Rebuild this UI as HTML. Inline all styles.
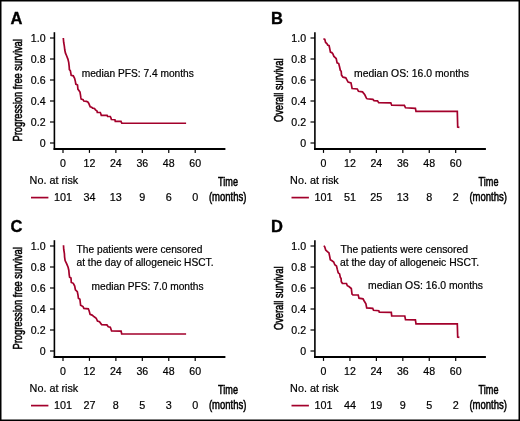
<!DOCTYPE html>
<html><head><meta charset="utf-8"><style>
html,body{margin:0;padding:0;background:#fff;}
body{width:520px;height:421px;overflow:hidden;position:relative;}
svg{position:absolute;left:0;top:0;will-change:transform;}
text{font-family:"Liberation Sans",sans-serif;fill:#000;stroke:#000;stroke-width:0.2px;}
.lt{font-size:16.5px;font-weight:bold;fill:#000;stroke:#000;stroke-width:0.35px;}
.tl{font-size:10.6px;}
.rk{font-size:10.8px;}
.nt{font-size:10.2px;}
.cd{font-size:13px;stroke:#000;stroke-width:0.55px;}
.ax{fill:none;stroke:#000;stroke-width:1.6;}
.tk{fill:none;stroke:#000;stroke-width:1.2;}
.cv{fill:none;stroke:#a3002b;stroke-width:1.7;stroke-linejoin:miter;}
.bd{fill:none;stroke:#000;}
</style></head><body>
<svg width="520" height="421" viewBox="0 0 520 421">
<rect x="0" y="0" width="520" height="421" fill="#fff"/>
<text x="10.5" y="23.5" class="lt">A</text>
<path d="M54.40,32.20 V149.90" class="ax"/>
<path d="M53.60,149.00 H225.40" class="ax" style="stroke-width:1.9"/>
<path d="M50.00,38.00 H54.40" class="tk"/>
<text x="45.60" y="41.70" class="tl" text-anchor="end">1.0</text>
<path d="M50.00,59.00 H54.40" class="tk"/>
<text x="45.60" y="62.70" class="tl" text-anchor="end">0.8</text>
<path d="M50.00,80.00 H54.40" class="tk"/>
<text x="45.60" y="83.70" class="tl" text-anchor="end">0.6</text>
<path d="M50.00,101.00 H54.40" class="tk"/>
<text x="45.60" y="104.70" class="tl" text-anchor="end">0.4</text>
<path d="M50.00,122.00 H54.40" class="tk"/>
<text x="45.60" y="125.70" class="tl" text-anchor="end">0.2</text>
<path d="M50.00,143.00 H54.40" class="tk"/>
<text x="45.60" y="146.70" class="tl" text-anchor="end">0</text>
<path d="M63.00,149.00 V152.90" class="tk"/>
<text x="63.00" y="167.30" class="tl" text-anchor="middle">0</text>
<text x="63.00" y="201.00" class="rk" text-anchor="middle">101</text>
<path d="M89.44,149.00 V152.90" class="tk"/>
<text x="89.44" y="167.30" class="tl" text-anchor="middle">12</text>
<text x="89.44" y="201.00" class="rk" text-anchor="middle">34</text>
<path d="M115.88,149.00 V152.90" class="tk"/>
<text x="115.88" y="167.30" class="tl" text-anchor="middle">24</text>
<text x="115.88" y="201.00" class="rk" text-anchor="middle">13</text>
<path d="M142.32,149.00 V152.90" class="tk"/>
<text x="142.32" y="167.30" class="tl" text-anchor="middle">36</text>
<text x="142.32" y="201.00" class="rk" text-anchor="middle">9</text>
<path d="M168.76,149.00 V152.90" class="tk"/>
<text x="168.76" y="167.30" class="tl" text-anchor="middle">48</text>
<text x="168.76" y="201.00" class="rk" text-anchor="middle">6</text>
<path d="M195.20,149.00 V152.90" class="tk"/>
<text x="195.20" y="167.30" class="tl" text-anchor="middle">60</text>
<text x="195.20" y="201.00" class="rk" text-anchor="middle">0</text>
<text x="29.60" y="184.30" class="rk">No. at risk</text>
<path d="M31.00,197.60 H48.40" class="cv"/>
<text transform="translate(228.00,185.60) scale(0.70,1)" class="cd" text-anchor="middle">Time</text>
<text transform="translate(227.60,200.50) scale(0.73,1)" class="cd" text-anchor="middle">(months)</text>
<text transform="translate(22.40,90.30) rotate(-90) scale(0.715,1)" class="cd" text-anchor="middle">Progression free survival</text>
<text x="81.70" y="76.80" class="nt">median PFS: 7.4 months</text>
<path d="M63.3,38 L63.7,42.5 L64.3,45.8 L64.8,50 L65.4,52.9 L66.6,55.8 L67.9,59.1 L68.7,62.4 L69.2,66.6 L69.4,69.6 L70.4,70.8 L71.2,75.4 L73.3,75.8 L74.6,78.3 L75.4,81.6 L75.8,84.1 L77.5,85 L77.9,89.1 L80,92 L80.5,95 L80.8,97.4 L81.2,99.1 L83.1,99.6 L83.8,101.05 L86.5,101.35 L87.8,101.9 L88.7,103.2 L89.5,105.1 L90.2,106.8 L91.7,107.25 L92.7,108.1 L94.45,108.5 L95.5,109.8 L96.5,110.6 L97.1,111.2 L97.3,112.4 L100.3,112.5 L100.8,113.7 L101.3,115.3 L107.1,115.4 L107.6,116.5 L110.3,116.5 L110.9,117.7 L111.4,119.5 L114.9,119.7 L115.3,121.3 L121,121.4 L121.4,122.5 L121.8,123.25 L186.1,123.25" class="cv"/>
<text x="271.0" y="23.5" class="lt">B</text>
<path d="M314.90,32.20 V149.90" class="ax"/>
<path d="M314.10,149.00 H485.90" class="ax" style="stroke-width:1.9"/>
<path d="M310.50,38.00 H314.90" class="tk"/>
<text x="306.10" y="41.70" class="tl" text-anchor="end">1.0</text>
<path d="M310.50,59.00 H314.90" class="tk"/>
<text x="306.10" y="62.70" class="tl" text-anchor="end">0.8</text>
<path d="M310.50,80.00 H314.90" class="tk"/>
<text x="306.10" y="83.70" class="tl" text-anchor="end">0.6</text>
<path d="M310.50,101.00 H314.90" class="tk"/>
<text x="306.10" y="104.70" class="tl" text-anchor="end">0.4</text>
<path d="M310.50,122.00 H314.90" class="tk"/>
<text x="306.10" y="125.70" class="tl" text-anchor="end">0.2</text>
<path d="M310.50,143.00 H314.90" class="tk"/>
<text x="306.10" y="146.70" class="tl" text-anchor="end">0</text>
<path d="M323.50,149.00 V152.90" class="tk"/>
<text x="323.50" y="167.30" class="tl" text-anchor="middle">0</text>
<text x="323.50" y="201.00" class="rk" text-anchor="middle">101</text>
<path d="M349.94,149.00 V152.90" class="tk"/>
<text x="349.94" y="167.30" class="tl" text-anchor="middle">12</text>
<text x="349.94" y="201.00" class="rk" text-anchor="middle">51</text>
<path d="M376.38,149.00 V152.90" class="tk"/>
<text x="376.38" y="167.30" class="tl" text-anchor="middle">24</text>
<text x="376.38" y="201.00" class="rk" text-anchor="middle">25</text>
<path d="M402.82,149.00 V152.90" class="tk"/>
<text x="402.82" y="167.30" class="tl" text-anchor="middle">36</text>
<text x="402.82" y="201.00" class="rk" text-anchor="middle">13</text>
<path d="M429.26,149.00 V152.90" class="tk"/>
<text x="429.26" y="167.30" class="tl" text-anchor="middle">48</text>
<text x="429.26" y="201.00" class="rk" text-anchor="middle">8</text>
<path d="M455.70,149.00 V152.90" class="tk"/>
<text x="455.70" y="167.30" class="tl" text-anchor="middle">60</text>
<text x="455.70" y="201.00" class="rk" text-anchor="middle">2</text>
<text x="290.10" y="184.30" class="rk">No. at risk</text>
<path d="M291.50,197.60 H308.90" class="cv"/>
<text transform="translate(488.50,185.60) scale(0.70,1)" class="cd" text-anchor="middle">Time</text>
<text transform="translate(488.10,200.50) scale(0.73,1)" class="cd" text-anchor="middle">(months)</text>
<text transform="translate(282.90,90.30) rotate(-90) scale(0.715,1)" class="cd" text-anchor="middle">Overall survival</text>
<text x="354.10" y="77.20" class="nt" style="font-size:10.4px">median OS: 16.0 months</text>
<path d="M323.4,38.7 L324.8,39.3 L325.6,42.5 L326.9,43.5 L327.7,45.1 L329.1,45.7 L329.8,48.9 L330.4,52.1 L331.8,52.6 L332.8,53.7 L333.9,56.4 L335,57.4 L336.2,58.5 L337.1,62.8 L338.7,63.6 L339.6,67 L340.3,70.3 L341.2,71.3 L341.5,75.1 L343,77.2 L345.8,77.8 L346.9,79.8 L348.1,82.1 L351,82.9 L352.1,88.5 L357.3,89 L358.5,91.3 L362.5,91.9 L364.8,94.8 L366.5,98.3 L367.1,98.8 L372.9,99.4 L374,100.6 L377.5,100.9 L378.7,102.7 L390.8,102.9 L391.7,105.2 L404.4,105.3 L405.5,107.8 L415.4,108.3 L416,111.4 L457.3,111.4 L457.7,127 L459.4,127.3" class="cv"/>
<text x="10.5" y="231.5" class="lt">C</text>
<path d="M54.40,240.20 V357.90" class="ax"/>
<path d="M53.60,357.00 H225.40" class="ax" style="stroke-width:1.9"/>
<path d="M50.00,246.00 H54.40" class="tk"/>
<text x="45.60" y="249.70" class="tl" text-anchor="end">1.0</text>
<path d="M50.00,267.00 H54.40" class="tk"/>
<text x="45.60" y="270.70" class="tl" text-anchor="end">0.8</text>
<path d="M50.00,288.00 H54.40" class="tk"/>
<text x="45.60" y="291.70" class="tl" text-anchor="end">0.6</text>
<path d="M50.00,309.00 H54.40" class="tk"/>
<text x="45.60" y="312.70" class="tl" text-anchor="end">0.4</text>
<path d="M50.00,330.00 H54.40" class="tk"/>
<text x="45.60" y="333.70" class="tl" text-anchor="end">0.2</text>
<path d="M50.00,351.00 H54.40" class="tk"/>
<text x="45.60" y="354.70" class="tl" text-anchor="end">0</text>
<path d="M63.00,357.00 V360.90" class="tk"/>
<text x="63.00" y="375.30" class="tl" text-anchor="middle">0</text>
<text x="63.00" y="409.00" class="rk" text-anchor="middle">101</text>
<path d="M89.44,357.00 V360.90" class="tk"/>
<text x="89.44" y="375.30" class="tl" text-anchor="middle">12</text>
<text x="89.44" y="409.00" class="rk" text-anchor="middle">27</text>
<path d="M115.88,357.00 V360.90" class="tk"/>
<text x="115.88" y="375.30" class="tl" text-anchor="middle">24</text>
<text x="115.88" y="409.00" class="rk" text-anchor="middle">8</text>
<path d="M142.32,357.00 V360.90" class="tk"/>
<text x="142.32" y="375.30" class="tl" text-anchor="middle">36</text>
<text x="142.32" y="409.00" class="rk" text-anchor="middle">5</text>
<path d="M168.76,357.00 V360.90" class="tk"/>
<text x="168.76" y="375.30" class="tl" text-anchor="middle">48</text>
<text x="168.76" y="409.00" class="rk" text-anchor="middle">3</text>
<path d="M195.20,357.00 V360.90" class="tk"/>
<text x="195.20" y="375.30" class="tl" text-anchor="middle">60</text>
<text x="195.20" y="409.00" class="rk" text-anchor="middle">0</text>
<text x="29.60" y="392.30" class="rk">No. at risk</text>
<path d="M31.00,405.60 H48.40" class="cv"/>
<text transform="translate(228.00,393.60) scale(0.70,1)" class="cd" text-anchor="middle">Time</text>
<text transform="translate(227.60,408.50) scale(0.73,1)" class="cd" text-anchor="middle">(months)</text>
<text transform="translate(22.40,298.30) rotate(-90) scale(0.715,1)" class="cd" text-anchor="middle">Progression free survival</text>
<text x="76.60" y="252.90" class="nt">The patients were censored</text>
<text x="76.50" y="266.20" class="nt">at the day of allogeneic HSCT.</text>
<text x="91.50" y="289.50" class="nt">median PFS: 7.0 months</text>
<path d="M63.5,245.2 L63.7,249.2 L64.4,253.5 L64.6,257.1 L65.1,260.6 L66.6,263.7 L68.1,267.2 L68.8,270.2 L69.2,274.6 L69.6,277.2 L71,278.1 L71.3,282.5 L73.3,283.3 L74.7,286 L75.4,289.9 L77.3,291.7 L78,295.2 L78.4,298.3 L79.9,299.2 L80.6,305.3 L83,306.6 L83.9,308.4 L88.3,308.8 L89.2,311 L90.1,314.4 L92.1,315.1 L94.2,316.8 L96.2,318.2 L97.5,321.1 L99.5,321.8 L101.6,324.6 L106.9,324.9 L108.3,326.7 L110.3,327.3 L111.6,331 L121.1,331.2 L121.7,334 L186.1,334" class="cv"/>
<text x="271.0" y="231.5" class="lt">D</text>
<path d="M314.90,240.20 V357.90" class="ax"/>
<path d="M314.10,357.00 H485.90" class="ax" style="stroke-width:1.9"/>
<path d="M310.50,246.00 H314.90" class="tk"/>
<text x="306.10" y="249.70" class="tl" text-anchor="end">1.0</text>
<path d="M310.50,267.00 H314.90" class="tk"/>
<text x="306.10" y="270.70" class="tl" text-anchor="end">0.8</text>
<path d="M310.50,288.00 H314.90" class="tk"/>
<text x="306.10" y="291.70" class="tl" text-anchor="end">0.6</text>
<path d="M310.50,309.00 H314.90" class="tk"/>
<text x="306.10" y="312.70" class="tl" text-anchor="end">0.4</text>
<path d="M310.50,330.00 H314.90" class="tk"/>
<text x="306.10" y="333.70" class="tl" text-anchor="end">0.2</text>
<path d="M310.50,351.00 H314.90" class="tk"/>
<text x="306.10" y="354.70" class="tl" text-anchor="end">0</text>
<path d="M323.50,357.00 V360.90" class="tk"/>
<text x="323.50" y="375.30" class="tl" text-anchor="middle">0</text>
<text x="323.50" y="409.00" class="rk" text-anchor="middle">101</text>
<path d="M349.94,357.00 V360.90" class="tk"/>
<text x="349.94" y="375.30" class="tl" text-anchor="middle">12</text>
<text x="349.94" y="409.00" class="rk" text-anchor="middle">44</text>
<path d="M376.38,357.00 V360.90" class="tk"/>
<text x="376.38" y="375.30" class="tl" text-anchor="middle">24</text>
<text x="376.38" y="409.00" class="rk" text-anchor="middle">19</text>
<path d="M402.82,357.00 V360.90" class="tk"/>
<text x="402.82" y="375.30" class="tl" text-anchor="middle">36</text>
<text x="402.82" y="409.00" class="rk" text-anchor="middle">9</text>
<path d="M429.26,357.00 V360.90" class="tk"/>
<text x="429.26" y="375.30" class="tl" text-anchor="middle">48</text>
<text x="429.26" y="409.00" class="rk" text-anchor="middle">5</text>
<path d="M455.70,357.00 V360.90" class="tk"/>
<text x="455.70" y="375.30" class="tl" text-anchor="middle">60</text>
<text x="455.70" y="409.00" class="rk" text-anchor="middle">2</text>
<text x="290.10" y="392.30" class="rk">No. at risk</text>
<path d="M291.50,405.60 H308.90" class="cv"/>
<text transform="translate(488.50,393.60) scale(0.70,1)" class="cd" text-anchor="middle">Time</text>
<text transform="translate(488.10,408.50) scale(0.73,1)" class="cd" text-anchor="middle">(months)</text>
<text transform="translate(282.90,298.30) rotate(-90) scale(0.715,1)" class="cd" text-anchor="middle">Overall survival</text>
<text x="340.40" y="253.00" class="nt" style="font-size:10.35px">The patients were censored</text>
<text x="339.90" y="266.20" class="nt" style="font-size:10.35px">at the day of allogeneic HSCT.</text>
<text x="368.10" y="289.30" class="nt" style="font-size:10.4px">median OS: 16.0 months</text>
<path d="M324,245.6 L324.8,247.1 L325.7,250 L327.4,251.7 L328.9,252.8 L329.7,256.3 L330.3,259.7 L332,260.8 L333.7,262 L334.8,264.8 L336.5,266 L337.3,269.4 L338.2,272.8 L339.6,273.9 L340.3,277.3 L341.1,278.5 L341.3,281.6 L342.4,283.3 L346.5,283.5 L347.3,285.7 L348.9,286.5 L351.3,288.5 L352,294.2 L352.9,295 L358.2,295 L359,298.2 L363,298.8 L364.2,301 L365.9,303.9 L366.7,307.9 L372.7,308.3 L373.5,310.3 L378.8,310.7 L379.3,312.2 L391.3,312.4 L391.7,315.8 L404.8,316 L405.5,319.6 L415.4,319.8 L416,323.8 L457.3,323.8 L457.7,337 L459.4,337.4" class="cv"/>
<path d="M0.75,0 V421 M0,0.75 H520 M519.25,0 V421 M0,420.25 H520" class="bd" stroke-width="1.5"/>
</svg>
</body></html>
